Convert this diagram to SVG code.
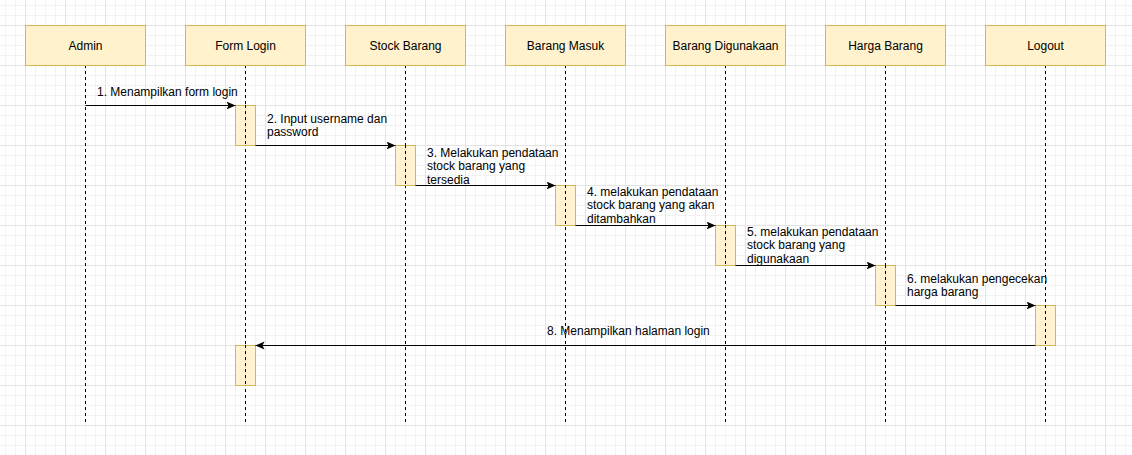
<svg xmlns="http://www.w3.org/2000/svg" width="1132" height="455" viewBox="0 0 1132 455">
<style>
.box{fill:#fff2cc;stroke:#d6b656;stroke-width:1}
.lbl{font-family:"Liberation Sans",Arial,sans-serif;font-size:12px;fill:#000}
.c{text-anchor:middle}
.life{stroke:#000;stroke-width:1;stroke-dasharray:3 3;fill:none}
.msg{stroke:#000;stroke-width:1;fill:none;marker-end:url(#arr)}
</style>
<defs>
<pattern id="minor" width="10" height="10" patternUnits="userSpaceOnUse" x="5" y="5">
<path d="M0 0.5H10M0.5 0V10" stroke="#f2f2f2" stroke-width="1" fill="none"/>
</pattern>
<pattern id="major" width="40" height="40" patternUnits="userSpaceOnUse" x="25" y="25">
<path d="M0 0.5H40M0.5 0V40" stroke="#e3e3e3" stroke-width="1" fill="none"/>
</pattern>
<marker id="arr" markerWidth="10" markerHeight="10" refX="9" refY="4" orient="auto" markerUnits="userSpaceOnUse">
<path d="M0 0L9 4L0 8L2 4Z" fill="#000"/>
</marker>
</defs>
<rect width="1132" height="455" fill="#fff"/>
<rect width="1132" height="455" fill="url(#minor)"/>
<rect width="1132" height="455" fill="url(#major)"/>

<g id="lifelines">
<path class="life" d="M85.5 65V425M245.5 65V425M405.5 65V425M565.5 65V425M725.5 65V425M885.5 65V425M1045.5 65V425"/>
</g>

<g id="admin"><rect class="box" x="25.5" y="25.5" width="120" height="40"/><text class="lbl c" x="85.5" y="49.5">Admin</text></g>
<g id="form-login"><rect class="box" x="185.5" y="25.5" width="120" height="40"/><text class="lbl c" x="245.5" y="49.5">Form Login</text></g>
<g id="stock-barang"><rect class="box" x="345.5" y="25.5" width="120" height="40"/><text class="lbl c" x="405.5" y="49.5">Stock Barang</text></g>
<g id="barang-masuk"><rect class="box" x="505.5" y="25.5" width="120" height="40"/><text class="lbl c" x="565.5" y="49.5">Barang Masuk</text></g>
<g id="barang-digunakaan"><rect class="box" x="665.5" y="25.5" width="120" height="40"/><text class="lbl c" x="725.5" y="49.5">Barang Digunakaan</text></g>
<g id="harga-barang"><rect class="box" x="825.5" y="25.5" width="120" height="40"/><text class="lbl c" x="885.5" y="49.5">Harga Barang</text></g>
<g id="logout"><rect class="box" x="985.5" y="25.5" width="120" height="40"/><text class="lbl c" x="1045.5" y="49.5">Logout</text></g>

<g id="activations">
<rect class="box" x="235.5" y="105.5" width="20" height="40" fill-opacity="0.9"/>
<rect class="box" x="395.5" y="145.5" width="20" height="40" fill-opacity="0.9"/>
<rect class="box" x="555.5" y="185.5" width="20" height="40" fill-opacity="0.9"/>
<rect class="box" x="715.5" y="225.5" width="20" height="40" fill-opacity="0.9"/>
<rect class="box" x="875.5" y="265.5" width="20" height="40" fill-opacity="0.9"/>
<rect class="box" x="1035.5" y="305.5" width="20" height="40" fill-opacity="0.9"/>
<rect class="box" x="235.5" y="345.5" width="20" height="40" fill-opacity="0.9"/>
</g>
<g id="lifelines-over">
<path class="life" d="M245.5 105V145M405.5 145V185M565.5 185V225M725.5 225V265M885.5 265V305M1045.5 305V345M245.5 345V385"/>
</g>

<g id="connectors">
<path class="msg" d="M85.5 105.5H235.5"/>
<path class="msg" d="M255.5 145.5H395.5"/>
<path class="msg" d="M415.5 185.5H555.5"/>
<path class="msg" d="M575.5 225.5H715.5"/>
<path class="msg" d="M735.5 265.5H875.5"/>
<path class="msg" d="M895.5 305.5H1035.5"/>
<path class="msg" d="M1035.5 345.5H255.5"/>
</g>

<g id="labels">
<text class="lbl" x="97" y="95.5">1. Menampilkan form login</text>
<text class="lbl" x="267" y="122.5">2. Input username dan<tspan x="267" dy="13.5">password</tspan></text>
<text class="lbl" x="427" y="156.5">3. Melakukan pendataan<tspan x="427" dy="13.5">stock barang yang</tspan><tspan x="427" dy="13.5">tersedia</tspan></text>
<text class="lbl" x="587" y="195.5">4. melakukan pendataan<tspan x="587" dy="13.5">stock barang yang akan</tspan><tspan x="587" dy="13.5">ditambahkan</tspan></text>
<text class="lbl" x="747" y="235.5">5. melakukan pendataan<tspan x="747" dy="13.5">stock barang yang</tspan><tspan x="747" dy="13.5">digunakaan</tspan></text>
<text class="lbl" x="907" y="282.5">6. melakukan pengecekan<tspan x="907" dy="13.5">harga barang</tspan></text>
<text class="lbl" x="547" y="334.5">8. Menampilkan halaman login</text>
</g>
</svg>
